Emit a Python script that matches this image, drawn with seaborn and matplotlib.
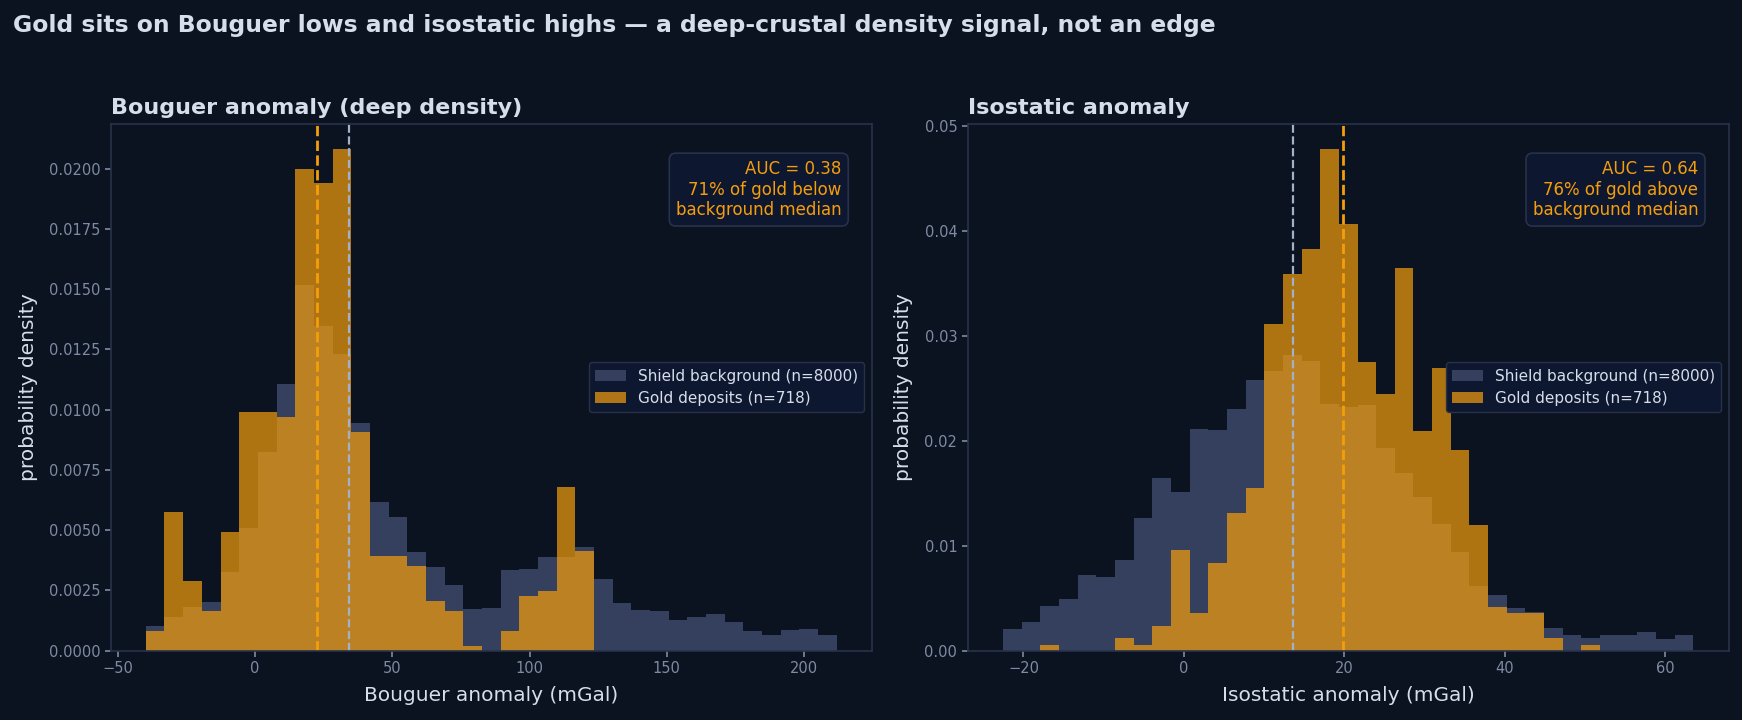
import numpy as np
import pandas as pd
import matplotlib
matplotlib.use("Agg")
import matplotlib.pyplot as plt
import seaborn as sns

# ---------------- data ----------------
bou_lo, bou_hi = -39.8, 211.9
iso_lo, iso_hi = -22.55, 63.55
n_bins = 37

bou_bg = [0.00101, 0.00139, 0.00180, 0.00200, 0.00326, 0.00507, 0.00823, 0.01105,
          0.01517, 0.01346, 0.01231, 0.00943, 0.00616, 0.00553, 0.00409, 0.00346,
          0.00272, 0.00172, 0.00176, 0.00333, 0.00337, 0.00387, 0.00387, 0.00429,
          0.00296, 0.00197, 0.00167, 0.00163, 0.00126, 0.00139, 0.00154, 0.00117,
          0.00080, 0.00064, 0.00084, 0.00089, 0.00064]
bou_gold = [0.00080, 0.00575, 0.00287, 0.00163, 0.00492, 0.00989, 0.00989, 0.00969,
            0.01998, 0.01940, 0.02081, 0.00906, 0.00392, 0.00392, 0.00350, 0.00204,
            0.00163, 0.00019, 0.0, 0.00080, 0.00226, 0.00247, 0.00678, 0.00413,
            0.0, 0.0, 0.0, 0.0, 0.0, 0.0, 0.0, 0.0, 0.0, 0.0, 0.0, 0.0, 0.0]
iso_bg = [0.00204, 0.00269, 0.00424, 0.00489, 0.00719, 0.00699, 0.00860, 0.01261,
          0.01641, 0.01510, 0.02111, 0.02101, 0.02301, 0.02577, 0.02663, 0.02817,
          0.02758, 0.02347, 0.02321, 0.02338, 0.01930, 0.01691, 0.01461, 0.01205,
          0.00939, 0.00614, 0.00535, 0.00404, 0.00364, 0.00213, 0.00154, 0.00118,
          0.00154, 0.00154, 0.00174, 0.00108, 0.00148]
iso_gold = [0.0, 0.0, 0.00053, 0.0, 0.0, 0.0, 0.00118, 0.00053,
            0.00233, 0.00955, 0.00355, 0.00834, 0.01310, 0.01546, 0.03112, 0.03588,
            0.03825, 0.04780, 0.04064, 0.02748, 0.02443, 0.03644, 0.02091, 0.02692,
            0.01911, 0.01195, 0.00414, 0.00355, 0.00355, 0.00118, 0.0, 0.00053,
            0.0, 0.0, 0.0, 0.0, 0.0]

bou_median_bg, bou_median_gold = 34.1, 22.6
iso_median_bg, iso_median_gold = 13.6, 19.9

titles = ["Bouguer anomaly (deep density)", "Isostatic anomaly"]
xlabels = ["Bouguer anomaly (mGal)", "Isostatic anomaly (mGal)"]
notes = ["AUC = 0.38\n71% of gold below\nbackground median",
         "AUC = 0.64\n76% of gold above\nbackground median"]
label_bg = "Shield background (n=8000)"
label_gold = "Gold deposits (n=718)"
suptitle = "Gold sits on Bouguer lows and isostatic highs \u2014 a deep-crustal density signal, not an edge"

# ---------------- style ----------------
BG = "#0b1220"
SPINE = "#27324a"
TICK = "#7f8ba3"
TEXT = "#d5deea"
C_BG = "#34405e"
C_GOLD = "#f59e0b"
C_MED_BG = "#a3b1c8"

sns.set_style("dark")
plt.rcParams.update({
    "font.family": ["DejaVu Sans"],
    "figure.facecolor": BG,
    "axes.facecolor": BG,
    "axes.edgecolor": SPINE,
    "axes.linewidth": 1.2,
    "axes.grid": False,
    "xtick.color": TICK,
    "ytick.color": TICK,
    "xtick.labelcolor": TICK,
    "ytick.labelcolor": TICK,
    "xtick.bottom": True,
    "ytick.left": True,
    "xtick.labelsize": 10.5,
    "ytick.labelsize": 10.5,
    "axes.labelcolor": TEXT,
})

fig, axes = plt.subplots(1, 2, figsize=(17.42, 7.2), dpi=100)
fig.subplots_adjust(left=0.0637, right=0.9924, bottom=0.0963, top=0.8278, wspace=0.1257)

panels = [
    (bou_lo, bou_hi, bou_bg, bou_gold, bou_median_bg, bou_median_gold),
    (iso_lo, iso_hi, iso_bg, iso_gold, iso_median_bg, iso_median_gold),
]

for ax, (lo, hi, bg, gold, mbg, mgold), title, xl, note in zip(axes, panels, titles, xlabels, notes):
    width = (hi - lo) / n_bins
    centers = lo + width * (np.arange(n_bins) + 0.5)
    df = pd.DataFrame({"x": centers, "bg": bg, "gold": gold})
    sns.histplot(data=df, x="x", weights="bg", bins=n_bins, binrange=(lo, hi),
                 stat="count", color=C_BG, alpha=1.0, edgecolor="none", linewidth=0,
                 ax=ax, label=label_bg)
    sns.histplot(data=df, x="x", weights="gold", bins=n_bins, binrange=(lo, hi),
                 stat="count", color=C_GOLD, alpha=0.7, edgecolor="none", linewidth=0,
                 ax=ax, label=label_gold)
    ax.axvline(mbg, color=C_MED_BG, ls="--", lw=1.6)
    ax.axvline(mgold, color=C_GOLD, ls="--", lw=2.0)
    ax.set_title(title, loc="left", fontsize=16, fontweight="bold", color=TEXT, pad=7)
    ax.set_xlabel(xl, fontsize=14.5, color=TEXT, labelpad=7)
    ax.set_ylabel("probability density", fontsize=14.5, color=TEXT, labelpad=8)
    for s in ax.spines.values():
        s.set_color(SPINE)
        s.set_visible(True)
    ax.tick_params(length=4, width=1.2, colors=TICK)
    ax.legend(loc="center right", fontsize=11, facecolor="#0e1730",
              edgecolor=SPINE, labelcolor=TEXT, framealpha=1.0)
    ax.text(0.96, 0.932, note, transform=ax.transAxes, ha="right", va="top",
            fontsize=12, color=C_GOLD, linespacing=1.2,
            bbox=dict(boxstyle="round,pad=0.4", facecolor="#0e1730", edgecolor=SPINE, lw=1.2))

axes[0].set_xlim(-52.5, 224.8)
axes[1].set_xlim(-26.95, 67.96)

fig.text(0.0076, 0.955, suptitle, ha="left", va="baseline", fontsize=16.9,
         fontweight="bold", color=TEXT)

fig.savefig("out.png", dpi=100, facecolor=BG)
